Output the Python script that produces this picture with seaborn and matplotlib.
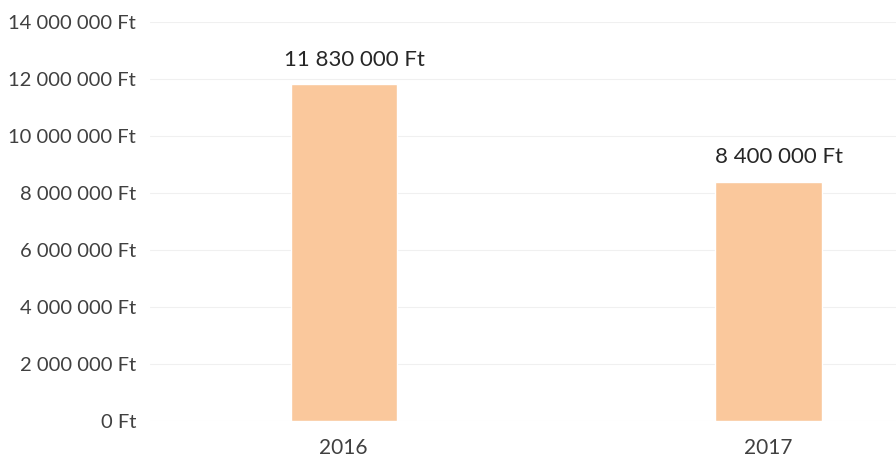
import matplotlib
matplotlib.use("Agg")
import matplotlib.pyplot as plt
import seaborn as sns
import pandas as pd

years = ["2016", "2017"]
amounts = [11830000, 8400000]
bar_labels = ["11 830 000 Ft", "8 400 000 Ft"]
yticks = [0, 2000000, 4000000, 6000000, 8000000, 10000000, 12000000, 14000000]

df = pd.DataFrame({"Year": years, "Amount": amounts})

sns.set_style("white")
plt.rcParams['font.family'] = ['Lato', 'DejaVu Sans']

fig = plt.figure(figsize=(8.96, 4.65), dpi=100)
ax = fig.add_axes([150 / 896, 1 - 421 / 465, 746 / 896, 399 / 465])

sns.barplot(data=df, x="Year", y="Amount", color="#FAC89C", saturation=1,
            width=0.25, ax=ax, zorder=2)

ax.set_ylim(0, 14000000)
ax.set_xlim(-0.456, 1.3)
ax.set_yticks(yticks)
ax.set_yticklabels([f"{v:,}".replace(",", " ") + " Ft" for v in yticks])
ax.yaxis.grid(True, color="#f0f0f0", linewidth=0.8, zorder=0)
ax.tick_params(axis="y", length=0, pad=10, labelsize=14.5, labelcolor="#404040")
ax.tick_params(axis="x", length=0, pad=12, labelsize=15, labelcolor="#404040")
ax.set_xlabel("")
ax.set_ylabel("")
for s in ax.spines.values():
    s.set_visible(False)

for i, v in enumerate(amounts):
    ax.text(i + 0.025, v + 500000, bar_labels[i], ha="center", va="bottom",
            fontsize=16, color="#262626")

fig.savefig("out.png", dpi=100)
